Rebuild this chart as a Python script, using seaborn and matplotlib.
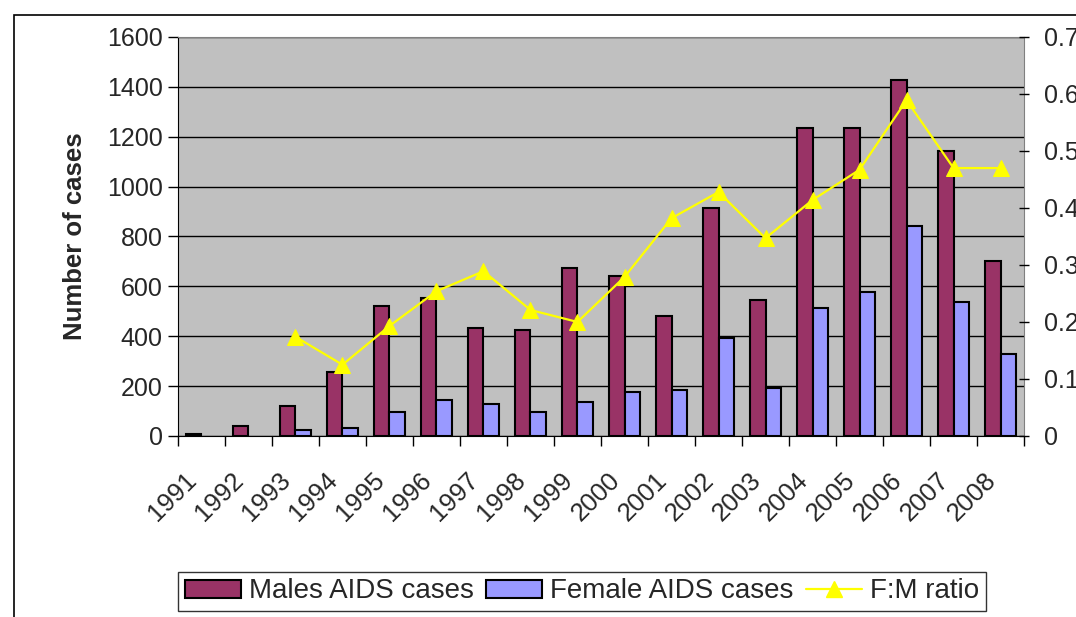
import numpy as np
import pandas as pd
import matplotlib
matplotlib.use("Agg")
import matplotlib.pyplot as plt
from matplotlib.patches import Rectangle, Patch
from matplotlib.lines import Line2D
import seaborn as sns

# data
years = ["1991", "1992", "1993", "1994", "1995", "1996", "1997", "1998", "1999",
         "2000", "2001", "2002", "2003", "2004", "2005", "2006", "2007", "2008"]
males = [8, 40, 120, 256, 522, 555, 433, 425, 673, 641, 481, 914, 545, 1235, 1235, 1427, 1143, 702]
females = [np.nan, np.nan, 24, 31, 97, 145, 128, 97, 136, 176, 184, 393, 192, 513, 577, 842, 537, 329]
ratio_years = ["1993", "1994", "1995", "1996", "1997", "1998", "1999", "2000", "2001",
               "2002", "2003", "2004", "2005", "2006", "2007", "2008"]
ratio = [0.174, 0.125, 0.193, 0.254, 0.289, 0.221, 0.200, 0.279, 0.382,
         0.428, 0.347, 0.414, 0.467, 0.589, 0.470, 0.470]

male_col = "#993366"
female_col = "#9999FF"
line_col = "#FFFF00"

df = pd.DataFrame({
    "Year": years * 2,
    "Cases": males + females,
    "Sex": ["Males AIDS cases"] * len(years) + ["Female AIDS cases"] * len(years),
})
ratio_df = pd.DataFrame({"pos": [years.index(y) for y in ratio_years], "ratio": ratio})

sns.set_style("white")
plt.rcParams["font.family"] = ["Liberation Sans", "DejaVu Sans"]
fs = 18
plt.rcParams["font.size"] = fs

fig = plt.figure(figsize=(10.76, 6.17), dpi=100)
ax = fig.add_axes([0.1654, 0.2934, 0.7863, 0.6467])
ax.set_facecolor("#C0C0C0")

sns.barplot(data=df, x="Year", y="Cases", hue="Sex", order=years,
            palette=[male_col, female_col], width=0.64, edgecolor="black",
            linewidth=1.5, saturation=1, legend=False, ax=ax, zorder=3)

ax.set_ylim(0, 1600)
ax.set_yticks(range(0, 1601, 200))
ax.set_xlim(-0.5, len(years) - 0.5)
ax.grid(axis="y", color="black", linewidth=1, zorder=0)
ax.set_axisbelow(True)

# category boundaries as ticks; labels (slightly left of centre, like Excel) on minor ticks
ax.set_xticks(np.arange(-0.5, len(years), 1.0))
ax.set_xticklabels([])
ax.set_xticks(np.arange(len(years)) - 0.36, minor=True)
ax.set_xticklabels(years, minor=True, rotation=45, ha="right", rotation_mode="anchor")
ax.tick_params(axis="x", which="major", length=7, width=1, direction="out", bottom=True, color="black")
ax.tick_params(axis="x", which="minor", length=0, pad=23, labelsize=18.5)
ax.tick_params(axis="y", length=7, width=1, direction="out", left=True, color="black", pad=4, labelsize=fs)
ax.set_xlabel("")
ax.set_ylabel("Number of cases", fontweight="bold", fontsize=18.5, labelpad=14)

for s in ["top", "right"]:
    ax.spines[s].set_color("#808080")
for s in ["left", "bottom"]:
    ax.spines[s].set_color("black")

ax2 = ax.twinx()
sns.lineplot(data=ratio_df, x="pos", y="ratio", color=line_col, linewidth=1.6,
             marker="^", markersize=11, markeredgecolor=line_col, ax=ax2, zorder=4)
ax2.set_ylim(0, 0.7)
ax2.set_yticks(np.arange(0, 0.71, 0.1))
ax2.set_yticklabels(["0", "0.1", "0.2", "0.3", "0.4", "0.5", "0.6", "0.7"])
ax2.tick_params(axis="y", length=7, width=1, direction="inout", right=True, color="black", pad=11, labelsize=fs)
ax2.set_ylabel("")
ax2.set_xlim(-0.5, len(years) - 0.5)
for s in ax2.spines.values():
    s.set_visible(False)

handles = [
    Patch(facecolor=male_col, edgecolor="black", linewidth=1.5, label="Males AIDS cases"),
    Patch(facecolor=female_col, edgecolor="black", linewidth=1.5, label="Female AIDS cases"),
    Line2D([], [], color=line_col, linewidth=1.6, marker="^", markersize=11, label="F:M ratio"),
]
leg = fig.legend(handles=handles, loc="lower center", bbox_to_anchor=(0.541, 0.0), ncol=3,
                 frameon=True, fancybox=False, edgecolor="black", handlelength=2.0,
                 handleheight=0.6, handletextpad=0.3, columnspacing=0.45, borderpad=0.25,
                 borderaxespad=0.2, fontsize=20)
leg.get_frame().set_linewidth(1)

# outer chart border
fig.patches.append(Rectangle((14 / 1076, -0.2), 1.2, 1 - 15 / 617 + 0.2, transform=fig.transFigure,
                             fill=False, edgecolor="black", linewidth=1.2))

fig.savefig("out.png", dpi=100)
